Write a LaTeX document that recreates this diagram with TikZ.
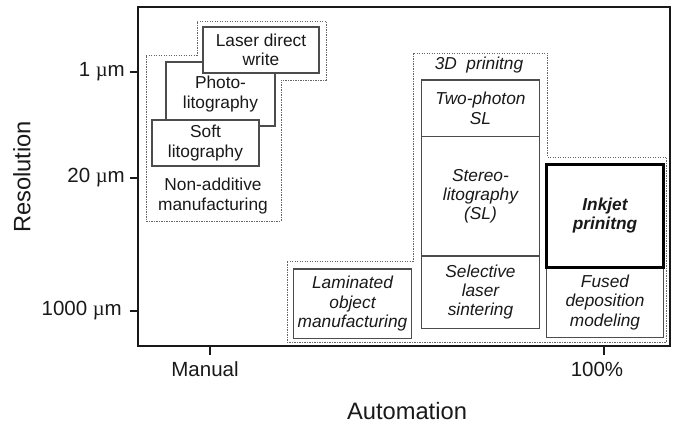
\documentclass[tikz,border=0pt]{standalone}
\usepackage{fontspec}
\setmainfont{Liberation Sans}
\newfontfamily\serifmu{Liberation Serif}
\newcommand{\umu}{{\serifmu µ}m}
\begin{document}
\begin{tikzpicture}[x=1pt,y=-1pt,
  box/.style={draw=black!70, line width=1.2pt, fill=white, inner sep=0pt, align=center,
    font=\fontsize{17.3}{19.3}\selectfont, text=black!90},
  ibox/.style={box, font=\fontsize{17.3}{19.3}\selectfont\itshape},
  dots/.style={draw=black!60, line width=1pt, dash pattern=on 1.1pt off 1.4pt},
  ticklab/.style={font=\fontsize{20.5}{23}\selectfont, text=black!90, inner sep=0pt},
  axtitle/.style={font=\fontsize{23.7}{26}\selectfont, text=black!90, inner sep=0pt},
  axis/.style={line width=2pt, draw=black!90}]
\useasboundingbox (0,0) rectangle (681,423);

% dotted groups
\draw[dots] (146,55) -- (197,55) -- (197,21) -- (326,21) -- (326,80) -- (281,80) -- (281,221) -- (146,221) -- cycle;
\draw[dots] (287,261) -- (413,261) -- (413,53) -- (547,53) -- (547,157) -- (666.5,157) -- (666.5,342) -- (287,342) -- cycle;

% non-additive boxes
\node[box, minimum width=109pt, minimum height=64pt] (photo) at (220.5,94) {Photo-\\litography};
\node[box, minimum width=116pt, minimum height=46pt] (ldw) at (261,50) {Laser direct\\write};
\node[box, minimum width=107pt, minimum height=46pt] (soft) at (205.5,143) {Soft\\litography};
\node[inner sep=0pt, align=center, font=\fontsize{17.3}{19.3}\selectfont, text=black!90] (nonadd) at (213,196) {Non-additive\\manufacturing};

% 3D printing
\node[inner sep=0pt, font=\fontsize{17.3}{19.3}\selectfont\itshape, text=black!90] (tdp) at (479,65) {3D\ \ prinitng};
\node[ibox, minimum width=117.6pt, minimum height=56.7pt] (two) at (480.5,108.3) {Two-photon\\SL};
\node[ibox, minimum width=117.6pt, minimum height=119.3pt] (stereo) at (480.5,196.3) {Stereo-\\litography\\(SL)};
\node[ibox, minimum width=117.6pt, minimum height=72.3pt] (sls) at (480.5,292.2) {Selective\\laser\\sintering};
\node[ibox, minimum width=118.4pt, minimum height=69.3pt] (lom) at (352.5,303.7) {Laminated\\object\\manufacturing};
\node[ibox, minimum width=116.6pt, minimum height=70.4pt] (fdm) at (605,302.5) {Fused\\deposition\\modeling};
\node[ibox, draw=black, line width=2.5pt, minimum width=116.6pt, minimum height=103pt,
  font=\fontsize{17.3}{19.3}\selectfont\bfseries\itshape] (inkjet) at (605,215.8) {Inkjet\\prinitng};

% frame and axes
\draw[axis] (138,7) rectangle (670,346);
\draw[axis] (130,72) -- (138,72);
\draw[axis] (130,178) -- (138,178);
\draw[axis] (130,311) -- (138,311);
\draw[axis] (210,346) -- (210,355);
\draw[axis] (604,346) -- (604,355);
\node[ticklab, anchor=east] (t1) at (125,72) {1 \umu};
\node[ticklab, anchor=east] (t20) at (125,178) {20 \umu};
\node[ticklab, anchor=east] (t1000) at (122,311) {1000 \umu};
\node[ticklab] (man) at (205,369) {Manual};
\node[ticklab] (hund) at (597,369) {100\%};
\node[axtitle] (auto) at (407,411) {Automation};
\node[axtitle, rotate=90] (res) at (22,177) {Resolution};
\end{tikzpicture}
\end{document}
